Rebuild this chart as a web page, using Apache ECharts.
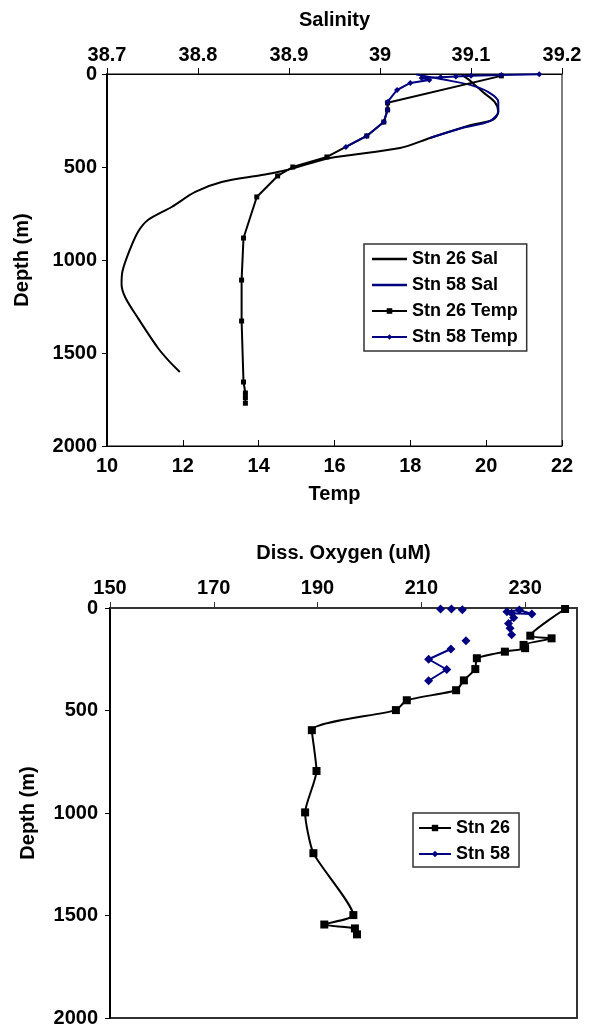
<!DOCTYPE html>
<html>
<head>
<meta charset="utf-8">
<script src="https://cdn.jsdelivr.net/npm/echarts@6/dist/echarts.min.js"></script>
<style>
  html, body { margin: 0; padding: 0; background: #fff; }
  #chart { width: 591px; height: 1029px; }
</style>
</head>
<body>
<div id="chart"></div>
<script>
// [value, depth m]
const sal26 = [[39.09, 5], [39.10, 40], [39.113, 97], [39.126, 150], [39.13, 204], [39.124, 247], [39.10, 274],
  [39.055, 344], [39.022, 398], [38.945, 452], [38.898, 516], [38.87, 543], [38.826, 581], [38.797, 634],
  [38.771, 715], [38.745, 785], [38.734, 849], [38.725, 946], [38.717, 1060], [38.716, 1130], [38.72, 1200],
  [38.734, 1312], [38.756, 1473], [38.769, 1548], [38.78, 1602]]
const sal58 = [[39.04, 3], [39.07, 30], [39.10, 60], [39.12, 100], [39.13, 150], [39.13, 200], [39.12, 255],
  [39.09, 290], [39.055, 344]]
const temp26 = [[20.4, 10], [17.4, 155], [17.4, 193], [17.3, 258], [16.85, 333], [15.8, 446], [14.9, 500],
  [14.5, 548], [13.95, 661], [13.6, 882], [13.55, 1108], [13.55, 1328], [13.6, 1656], [13.65, 1715],
  [13.65, 1740], [13.65, 1770]]
const temp58 = [[21.4, 2], [20.4, 6], [19.6, 10], [19.2, 14], [18.8, 18], [18.3, 22], [18.5, 32], [18.0, 48],
  [17.65, 86], [17.4, 150], [17.4, 193], [17.3, 258], [16.85, 333], [16.3, 392]]
const oxy26 = [[237.7, 5], [231.0, 135], [235.1, 148], [229.7, 180], [230.0, 196], [226.1, 213], [220.7, 245],
  [220.4, 298], [218.2, 353], [216.7, 401], [207.2, 450], [205.1, 498], [188.9, 596], [189.8, 795],
  [187.6, 997], [189.2, 1196], [196.9, 1498], [191.3, 1544], [197.2, 1563], [197.6, 1592]]
// null = gap in the line
const oxy58 = [[213.7, 5], null, [215.8, 5], null, [217.9, 8], null,
  [226.5, 18], [228.9, 10], [231.3, 29], [227.4, 26], [227.8, 47], [226.8, 75], [227.1, 99], [227.4, 131], null,
  [218.6, 160], null,
  [215.7, 200], [211.4, 250], [214.9, 300], [211.4, 355]]
const depthTicks = [0, 500, 1000, 1500, 2000]
const oxyTicks = [150, 170, 190, 210, 230]

const NAVY = '#000080'
const font = { fontFamily: 'Liberation Sans, Arial, sans-serif', fontWeight: 'bold', color: '#000' }
const plainLine = 'path://M0,0 L35,0 L35,2.4 L0,2.4 Z'

function splitGaps(arr) {
  let segs = [[]]
  arr.forEach(p => {
    if (p === null) segs.push([])
    else segs[segs.length - 1].push(p)
  })
  return segs.filter(s => s.length)
}

function depthAxis(gridIndex, gap, margin) {
  return {
    type: 'value', gridIndex: gridIndex, inverse: true, min: 0, max: 2000, interval: 500,
    name: 'Depth (m)', nameLocation: 'middle', nameGap: gap, nameRotate: 90,
    nameTextStyle: Object.assign({ fontSize: 20 }, font),
    axisLine: { show: true, lineStyle: { color: '#000', width: 2 } },
    axisTick: { show: true, inside: false, length: 5, lineStyle: { color: '#000' } },
    axisLabel: Object.assign({ fontSize: 20, margin: margin, customValues: depthTicks, formatter: v => String(v) }, font),
    splitLine: { show: false }
  }
}

let chart = echarts.init(document.getElementById('chart'))

let oxy58Series = splitGaps(oxy58).map(seg => ({
  name: 'Stn 58', type: 'line', xAxisIndex: 2, yAxisIndex: 1, data: seg,
  symbol: 'diamond', symbolSize: 9, showSymbol: true,
  lineStyle: { color: NAVY, width: 2 }, itemStyle: { color: NAVY }
}))

chart.setOption({
  animation: false,
  grid: [
    { left: 107, top: 74, width: 455, height: 372, show: true, borderColor: '#000', borderWidth: 1 },
    { left: 110, top: 608, width: 467, height: 410, show: true, borderColor: '#333', borderWidth: 2 }
  ],
  xAxis: [
    {
      type: 'value', gridIndex: 0, position: 'top', min: 38.7, max: 39.2, interval: 0.1,
      name: 'Salinity', nameLocation: 'middle', nameGap: 44,
      nameTextStyle: Object.assign({ fontSize: 20 }, font),
      axisLine: { lineStyle: { color: '#000' } },
      axisTick: { inside: false, length: 6, lineStyle: { color: '#000' } },
      axisLabel: Object.assign({ fontSize: 20, margin: 9 }, font),
      splitLine: { show: false }
    },
    {
      type: 'value', gridIndex: 0, position: 'bottom', min: 10, max: 22, interval: 2,
      name: 'Temp', nameLocation: 'middle', nameGap: 38,
      nameTextStyle: Object.assign({ fontSize: 20 }, font),
      axisLine: { lineStyle: { color: '#000' } },
      axisTick: { inside: true, length: 6, lineStyle: { color: '#000' } },
      axisLabel: Object.assign({ fontSize: 20, margin: 10 }, font),
      splitLine: { show: false }
    },
    {
      type: 'value', gridIndex: 1, position: 'top', min: 150, max: 240, interval: 20,
      name: 'Diss. Oxygen (uM)', nameLocation: 'middle', nameGap: 45,
      nameTextStyle: Object.assign({ fontSize: 20 }, font),
      axisLine: { lineStyle: { color: '#333' } },
      axisTick: { inside: false, length: 6, lineStyle: { color: '#333' }, customValues: oxyTicks },
      axisLabel: Object.assign({ fontSize: 20, margin: 10, customValues: oxyTicks }, font),
      splitLine: { show: false }
    }
  ],
  yAxis: [depthAxis(0, 75, 10), depthAxis(1, 72, 12)],
  legend: [
    {
      data: [
        { name: 'Stn 26 Sal', icon: plainLine },
        { name: 'Stn 58 Sal', icon: plainLine },
        'Stn 26 Temp', 'Stn 58 Temp'
      ],
      orient: 'vertical', left: 364, top: 244,
      padding: [6, 9, 5, 7], itemGap: 8, itemWidth: 35, itemHeight: 7,
      borderColor: '#333', borderWidth: 1.5, backgroundColor: '#fff',
      textStyle: Object.assign({ fontSize: 18, lineHeight: 18 }, font)
    },
    {
      data: ['Stn 26', 'Stn 58'],
      orient: 'vertical', left: 413, top: 813,
      padding: [6, 9, 4, 5], itemGap: 8, itemWidth: 32, itemHeight: 8,
      borderColor: '#333', borderWidth: 1.5, backgroundColor: '#fff',
      textStyle: Object.assign({ fontSize: 18, lineHeight: 18 }, font)
    }
  ],
  series: [
    {
      name: 'Stn 26 Sal', type: 'line', xAxisIndex: 0, yAxisIndex: 0, data: sal26,
      smooth: 0.3, symbol: 'none', lineStyle: { color: '#000', width: 2 }, itemStyle: { color: '#000' }
    },
    {
      name: 'Stn 58 Sal', type: 'line', xAxisIndex: 0, yAxisIndex: 0, data: sal58,
      smooth: 0.3, symbol: 'none', lineStyle: { color: NAVY, width: 2 }, itemStyle: { color: NAVY }
    },
    {
      name: 'Stn 26 Temp', type: 'line', xAxisIndex: 1, yAxisIndex: 0, data: temp26,
      symbol: 'rect', symbolSize: 5, lineStyle: { color: '#000', width: 2 }, itemStyle: { color: '#000' }
    },
    {
      name: 'Stn 58 Temp', type: 'line', xAxisIndex: 1, yAxisIndex: 0, data: temp58,
      symbol: 'diamond', symbolSize: 6, lineStyle: { color: NAVY, width: 2 }, itemStyle: { color: NAVY }
    },
    {
      name: 'Stn 26', type: 'line', xAxisIndex: 2, yAxisIndex: 1, data: oxy26,
      smooth: 0.2, symbol: 'rect', symbolSize: 8, lineStyle: { color: '#000', width: 2 }, itemStyle: { color: '#000' }
    }
  ].concat(oxy58Series)
})
</script>
</body>
</html>
